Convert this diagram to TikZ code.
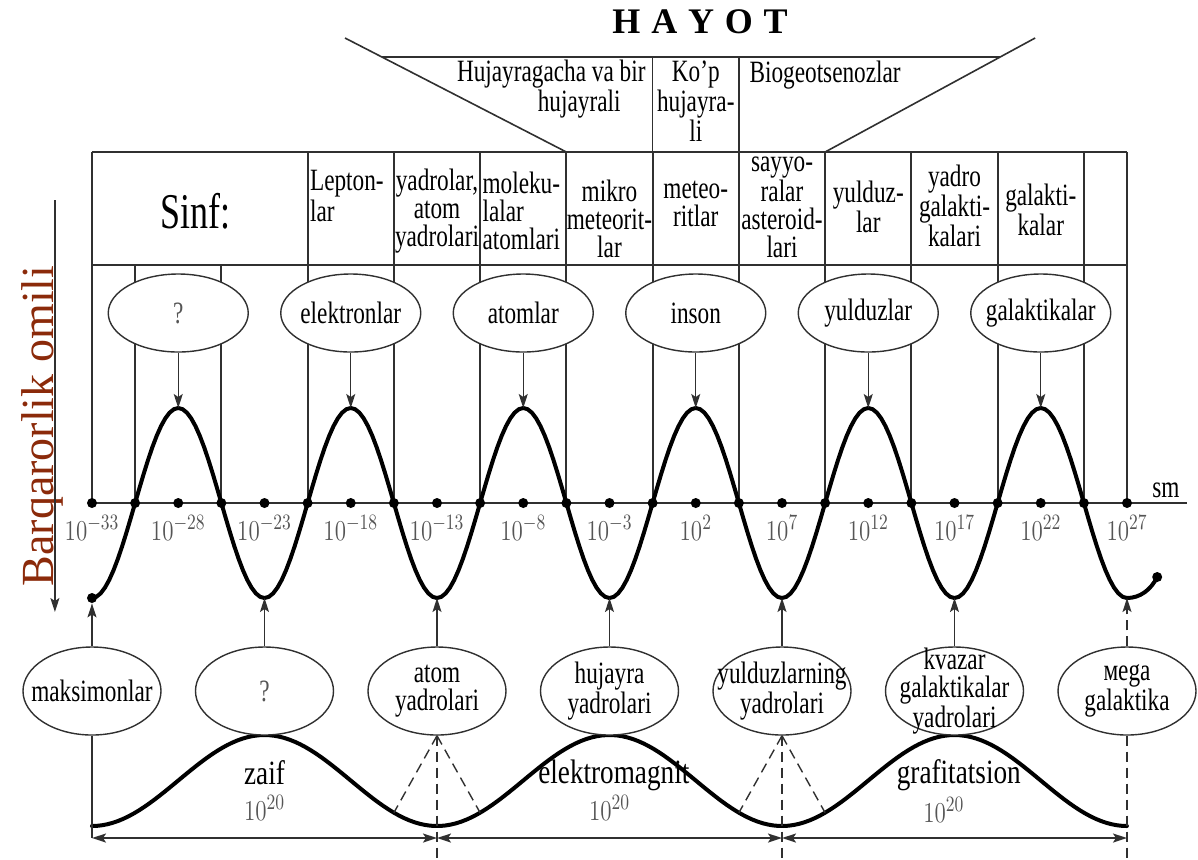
\documentclass[tikz,border=0pt]{standalone}
\usepackage{fontspec}
\setmainfont{Liberation Serif}
\usetikzlibrary{shapes.geometric,arrows.meta,calc}
\definecolor{rust}{HTML}{8B2A0A}
\definecolor{lbl}{HTML}{555555}
\definecolor{rule}{HTML}{303030}
\begin{document}
\begin{tikzpicture}[x=21.5625pt, y=-0.5pt,
  txt/.style={inner sep=0pt, align=center, xscale=0.75, font=\fontsize{15.5}{14}\selectfont},
  txtl/.style={txt, align=left},
  big/.style={inner sep=0pt, xscale=0.8, font=\fontsize{17}{17}\selectfont},
  num/.style={inner sep=0pt, xscale=0.8, text=lbl, font=\fontsize{15}{15}\selectfont},
  oval/.style={ellipse, draw=rule, line width=0.7pt, fill=white, minimum width=70pt, minimum height=39pt, inner sep=0pt},
  loval/.style={oval, minimum width=69pt, minimum height=44pt},
  rl/.style={draw=rule, line width=1.1pt},
  inl/.style={draw=rule, line width=0.8pt},
  tip/.style={-{Stealth[length=7pt,width=4.5pt,inset=1.5pt]}, line width=0.7pt, draw=rule},
  dim/.style={{Stealth[length=7pt,width=4.5pt,inset=1.5pt]}-{Stealth[length=7pt,width=4.5pt,inset=1.5pt]}, line width=0.9pt, draw=rule},
  wave/.style={line width=2pt, line cap=round, draw=black},
  dot/.style={circle, fill=black, inner sep=0pt, minimum size=5pt},
  dsh/.style={draw=rule, line width=0.7pt, dash pattern=on 5pt off 3pt},
]
\useasboundingbox (-2.1333,0) rectangle (25.6464,859);

\node[inner sep=0pt, font=\bfseries\fontsize{18}{18}\selectfont] (hayot) at (14.1,22) {H\hspace{0.3em}A\hspace{0.3em}Y\hspace{0.3em}O\hspace{0.3em}T};
\coordinate (el) at (5.867,38);
\coordinate (tl) at (11,152);
\coordinate (er) at (21.87,38);
\coordinate (tr) at (17,152);
\coordinate (hl) at ($(el)!0.1667!(tl)$);
\coordinate (hr) at ($(er)!0.1667!(tr)$);
\draw[inl] (el) -- (tl);
\draw[inl] (er) -- (tr);
\draw[rl] (hl) -- (hr);
\draw[inl] (13,57) -- (13,152);
\draw[inl] (15,57) -- (15,152);
\node[txt] (hj) at (10.65,89) {Hujayragacha va bir\\\hspace*{2.4em}hujayrali};
\node[txt] (kp) at (14,101) {Ko'p\\hujayra-\\li};
\node[txt] (bg) at (17,75) {Biogeotsenozlar};

\draw[rl] (0,152) -- (24,152);
\draw[rl] (0,265) -- (24,265);
\draw[rl] (0,152) -- (0,503);
\draw[rl] (1,265) -- (1,503);
\draw[rl] (3,265) -- (3,503);
\draw[rl] (5,152) -- (5,503);
\draw[rl] (7,152) -- (7,503);
\draw[rl] (9,152) -- (9,503);
\draw[rl] (11,152) -- (11,503);
\draw[rl] (13,152) -- (13,503);
\draw[rl] (15,152) -- (15,503);
\draw[rl] (17,152) -- (17,503);
\draw[rl] (19,152) -- (19,503);
\draw[rl] (21,152) -- (21,503);
\draw[rl] (23,152) -- (23,503);
\draw[rl] (24,152) -- (24,503);

\node[inner sep=0pt, xscale=0.72, font=\fontsize{25}{25}\selectfont] (sinf) at (2.4,211) {Sinf:};
\node[txtl, anchor=west] (lep) at (5.05,196) {Lepton-\\lar};
\node[txt] (yad) at (8,211) {yadrolar,\\atom\\yadrolari};
\node[txtl, anchor=west] (mol) at (9.05,211) {moleku-\\lalar\\atomlari};
\node[txt] (mik) at (12,219) {mikro\\meteorit-\\lar};
\node[txt] (met) at (14,204) {meteo-\\ritlar};
\node[txt] (say) at (16,207) {sayyo-\\ralar\\asteroid-\\lari};
\node[txt] (yul) at (18,207) {yulduz-\\lar};
\node[txt] (yg) at (20,206) {yadro\\galakti-\\kalari};
\node[txt] (gk) at (22,210) {galakti-\\kalar};

\draw[draw=rule, line width=1pt] (0,503) -- (25.39,503);
\node[txt] (sm) at (24.9,490) {sm};

\draw[wave] plot[domain=0:24, samples=241] (\x,{503+95*cos(90*\x)}) .. controls (24.3,598) and (24.55,590) .. (24.7,577);
\draw[wave] plot[domain=0:24, samples=200] (\x,{780.5-45.5*cos(45*(\x-4))});

\node[dot] (ds) at (0,598) {};
\node[dot] (de) at (24.7,577) {};
\node[dot] (d0) at (0,503) {};
\node[dot] (d1) at (1,503) {};
\node[dot] (d2) at (2,503) {};
\node[dot] (d3) at (3,503) {};
\node[dot] (d4) at (4,503) {};
\node[dot] (d5) at (5,503) {};
\node[dot] (d6) at (6,503) {};
\node[dot] (d7) at (7,503) {};
\node[dot] (d8) at (8,503) {};
\node[dot] (d9) at (9,503) {};
\node[dot] (d10) at (10,503) {};
\node[dot] (d11) at (11,503) {};
\node[dot] (d12) at (12,503) {};
\node[dot] (d13) at (13,503) {};
\node[dot] (d14) at (14,503) {};
\node[dot] (d15) at (15,503) {};
\node[dot] (d16) at (16,503) {};
\node[dot] (d17) at (17,503) {};
\node[dot] (d18) at (18,503) {};
\node[dot] (d19) at (19,503) {};
\node[dot] (d20) at (20,503) {};
\node[dot] (d21) at (21,503) {};
\node[dot] (d22) at (22,503) {};
\node[dot] (d23) at (23,503) {};
\node[dot] (d24) at (24,503) {};

\node[num] (l0) at (0,528) {$10^{-33}$};
\node[num] (l2) at (2,528) {$10^{-28}$};
\node[num] (l4) at (4,528) {$10^{-23}$};
\node[num] (l6) at (6,528) {$10^{-18}$};
\node[num] (l8) at (8,528) {$10^{-13}$};
\node[num] (l10) at (10,528) {$10^{-8}$};
\node[num] (l12) at (12,528) {$10^{-3}$};
\node[num] (l14) at (14,528) {$10^{2}$};
\node[num] (l16) at (16,528) {$10^{7}$};
\node[num] (l18) at (18,528) {$10^{12}$};
\node[num] (l20) at (20,528) {$10^{17}$};
\node[num] (l22) at (22,528) {$10^{22}$};
\node[num] (l24) at (24,528) {$10^{27}$};

\node[oval] (t2) at (2,313) {};
\node[oval] (t6) at (6,313) {};
\node[oval] (t10) at (10,313) {};
\node[oval] (t14) at (14,313) {};
\node[oval] (t18) at (18,313) {};
\node[oval] (t22) at (22,313) {};
\node[txt, text=lbl] (t2x) at (t2) {?};
\node[txt] (t6x) at (t6) {elektronlar};
\node[txt] (t10x) at (t10) {atomlar};
\node[txt] (t14x) at (t14) {inson};
\node[txt] (t18x) at (t18) {yulduzlar};
\node[txt] (t22x) at (t22) {galaktikalar};
\coordinate (p2) at (2,408);
\coordinate (p6) at (6,408);
\coordinate (p10) at (10,408);
\coordinate (p14) at (14,408);
\coordinate (p18) at (18,408);
\coordinate (p22) at (22,408);
\draw[tip] (t2) -- (p2);
\draw[tip] (t6) -- (p6);
\draw[tip] (t10) -- (p10);
\draw[tip] (t14) -- (p14);
\draw[tip] (t18) -- (p18);
\draw[tip] (t22) -- (p22);

\node[loval] (b0) at (0,691) {};
\node[loval] (b4) at (4,691) {};
\node[loval] (b8) at (8,691) {};
\node[loval] (b12) at (12,691) {};
\node[loval] (b16) at (16,691) {};
\node[loval] (b20) at (20,691) {};
\node[loval] (b24) at (24,691) {};
\node[txt] (b0x) at (b0) {maksimonlar};
\node[txt, text=lbl] (b4x) at (b4) {?};
\node[txt] (b8x) at (b8) {atom\\yadrolari};
\node[txt] (b12x) at (b12) {hujayra\\yadrolari};
\node[txt] (b16x) at (b16) {yulduzlarning\\yadrolari};
\node[txt] (b20x) at (b20) {kvazar\\galaktikalar\\yadrolari};
\node[txt] (b24x) at (b24) {мega\\galaktika};
\coordinate (v4) at (4,598);
\coordinate (v8) at (8,598);
\coordinate (v12) at (12,598);
\coordinate (v16) at (16,598);
\coordinate (v20) at (20,598);
\coordinate (v24) at (24,598);
\draw[tip] (b0) -- (ds);
\draw[tip] (b4) -- (v4);
\draw[tip] (b8) -- (v8);
\draw[tip] (b12) -- (v12);
\draw[tip] (b16) -- (v16);
\draw[tip] (b20) -- (v20);
\draw[tip, dash pattern=on 5pt off 3pt] (b24) -- (v24);

\node[rotate=90, inner sep=0pt, text=rust, font=\fontsize{23}{23}\selectfont] (bq) at (-1.16,426) {Barqarorlik omili};
\coordinate (la1) at (-0.86,200);
\coordinate (la2) at (-0.86,612);
\draw[tip] (la1) -- (la2);

\node[big] (zf) at (4,773) {zaif};
\node[num] (zfn) at (4,808) {$10^{20}$};
\node[big] (em) at (12.1,775) {elektromagnit};
\node[num] (emn) at (12,808) {$10^{20}$};
\node[big] (gr) at (20.1,775) {grafitatsion};
\node[num] (grn) at (19.75,810) {$10^{20}$};

\coordinate (a0) at (0,838);
\coordinate (a8) at (8,838);
\coordinate (a16) at (16,838);
\coordinate (a24) at (24,838);
\coordinate (e8) at (8,859);
\coordinate (e16) at (16,859);
\coordinate (e24) at (24,859);
\coordinate (w7) at (7,812.7);
\coordinate (w9) at (9,812.7);
\coordinate (w15) at (15,812.7);
\coordinate (w17) at (17,812.7);
\draw[inl] (b0) -- (a0);
\draw[dim] (a0) -- (a8);
\draw[dim] (a8) -- (a16);
\draw[dim] (a16) -- (a24);
\draw[dsh] (b8) -- (e8);
\draw[dsh] (b16) -- (e16);
\draw[dsh] (b24) -- (e24);
\draw[dsh] (b8.south) -- (w7);
\draw[dsh] (b8.south) -- (w9);
\draw[dsh] (b16.south) -- (w15);
\draw[dsh] (b16.south) -- (w17);
\end{tikzpicture}
\end{document}
